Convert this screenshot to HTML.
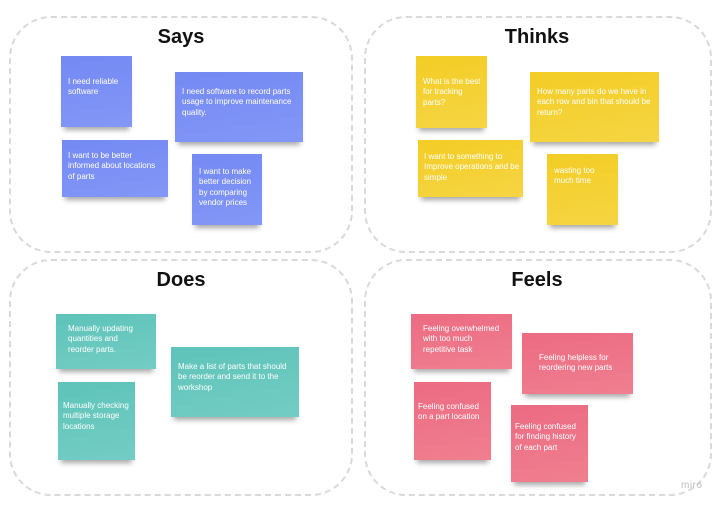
<!DOCTYPE html>
<html><head><style>
body{margin:0;width:721px;height:508px;background:#fff;position:relative;overflow:hidden;font-family:"Liberation Sans",sans-serif}
.q{position:absolute;border:2px dashed #d9d9d9;border-radius:42px;box-sizing:border-box}
.t{position:absolute;font-weight:bold;font-size:20px;color:#111;transform:translateX(-50%)}
.n{position:absolute;box-sizing:border-box;color:#fff;font-size:8px;line-height:10.4px;white-space:nowrap;box-shadow:0 6px 5px -3px rgba(0,0,0,.35)}
.b{background:linear-gradient(170deg,#7489f3,#8397f7)}
.y{background:linear-gradient(170deg,#f3cd25,#f5d543)}
.g{background:linear-gradient(170deg,#5ec3b9,#73cdc4)}
.p{background:linear-gradient(170deg,#ec6b82,#f07f90)}
</style></head><body>
<div class="q" style="left:9px;top:16px;width:344px;height:237px"></div>
<div class="q" style="left:364px;top:16px;width:348px;height:237px"></div>
<div class="q" style="left:9px;top:259px;width:344px;height:237px"></div>
<div class="q" style="left:364px;top:259px;width:348px;height:237px"></div>
<div class="t" style="left:181px;top:26px">Says</div>
<div class="t" style="left:537px;top:26px">Thinks</div>
<div class="t" style="left:181px;top:269px">Does</div>
<div class="t" style="left:537px;top:269px">Feels</div>

<div class="n b" style="left:61px;top:56px;width:71px;height:71px;padding:21px 7px">I need reliable<br>software</div>
<div class="n b" style="left:175px;top:72px;width:128px;height:70px;padding:15px 7px">I need software to record parts<br>usage to improve maintenance<br>quality.</div>
<div class="n b" style="left:62px;top:140px;width:106px;height:57px;padding:11px 6px">I want to be better<br>informed about locations<br>of parts</div>
<div class="n b" style="left:192px;top:154px;width:70px;height:71px;padding:13px 7px">I want to make<br>better decision<br>by comparing<br>vendor prices</div>

<div class="n y" style="left:416px;top:56px;width:71px;height:72px;padding:21px 7px">What is the best<br>for tracking<br>parts?</div>
<div class="n y" style="left:530px;top:72px;width:129px;height:70px;padding:15px 7px">How many parts do we have in<br>each row and bin that should be<br>return?</div>
<div class="n y" style="left:418px;top:140px;width:105px;height:57px;padding:12px 6px">I want to something to<br>Improve operations and be<br>simple</div>
<div class="n y" style="left:547px;top:154px;width:71px;height:71px;padding:12px 7px">wasting too<br>much time</div>

<div class="n g" style="left:56px;top:314px;width:100px;height:55px;padding:10px 12px">Manually updating<br>quantities and<br>reorder parts.</div>
<div class="n g" style="left:171px;top:347px;width:128px;height:70px;padding:15px 7px">Make a list of parts that should<br>be reorder and send it to the<br>workshop</div>
<div class="n g" style="left:58px;top:382px;width:77px;height:78px;padding:19px 5px">Manually checking<br>multiple storage<br>locations</div>

<div class="n p" style="left:411px;top:314px;width:101px;height:55px;padding:10px 12px">Feeling overwhelmed<br>with too much<br>repetitive task</div>
<div class="n p" style="left:522px;top:333px;width:111px;height:61px;padding:20px 17px">Feeling helpless for<br>reordering new parts</div>
<div class="n p" style="left:414px;top:382px;width:77px;height:78px;padding:20px 4px">Feeling confused<br>on a part location</div>
<div class="n p" style="left:511px;top:405px;width:77px;height:77px;padding:17px 4px">Feeling confused<br>for finding history<br>of each part</div>

<div style="position:absolute;left:681px;top:480px;font-size:10px;color:#bbb;letter-spacing:.5px">miro</div>
</body></html>
